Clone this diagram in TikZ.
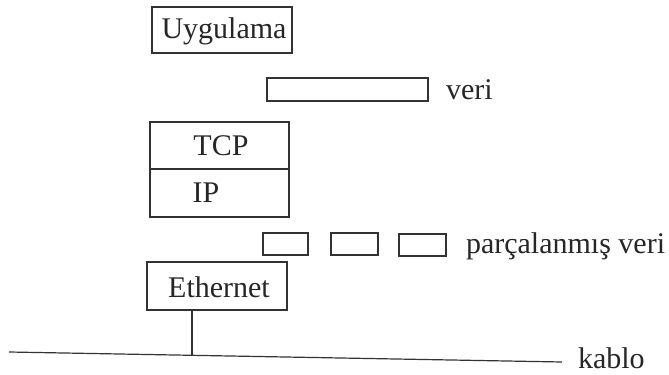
\documentclass[tikz,border=0pt]{standalone}
\usepackage{fontspec}
\setmainfont{Liberation Serif}
\begin{document}
\begin{tikzpicture}[x=0.75pt,y=-0.75pt,
  every node/.style={inner sep=0pt,outer sep=0pt},
  lbl/.style={font=\fontsize{22.5}{25}\selectfont,text=black!85},
  layer/.style={draw=black!80,line width=0.9pt,rectangle,anchor=north west},
  chunk/.style={draw=black!80,line width=0.9pt,rectangle,anchor=north west},
  wire/.style={draw=black!80,line width=0.9pt}]
\useasboundingbox (0,0) rectangle (669,375);

% protocol layers
\node[layer,minimum width=140*0.75pt,minimum height=46*0.75pt] (app) at (152,7) {};
\node[lbl] (apptxt) at (224,31) {Uygulama};

\node[layer,minimum width=139*0.75pt,minimum height=47*0.75pt] (tcp) at (150,122) {};
\node[lbl] (tcptxt) at (221,146) {TCP};
\node[layer,minimum width=139*0.75pt,minimum height=48*0.75pt] (ip) at (150,169) {};
\node[lbl] (iptxt) at (206,193) {IP};

\node[layer,minimum width=140*0.75pt,minimum height=48*0.75pt] (eth) at (147,262) {};
\node[lbl] (ethtxt) at (219,287) {Ethernet};

% data before and after fragmentation
\node[chunk,minimum width=161*0.75pt,minimum height=23*0.75pt] (data) at (267,78) {};
\node[lbl,anchor=west] (datatxt) at (446,90) {veri};

\node[chunk,minimum width=45*0.75pt,minimum height=22*0.75pt] (f1) at (263,233) {};
\node[chunk,minimum width=47*0.75pt,minimum height=22*0.75pt] (f2) at (331,233) {};
\node[chunk,minimum width=47*0.75pt,minimum height=22*0.75pt] (f3) at (399,234) {};
\node[lbl,anchor=west] (fragtxt) at (466,246) {parçalanmış veri};

% cable
\coordinate (cl) at (9,352);
\coordinate (cr) at (562,362);
\coordinate (tap) at (192,355.3);
\draw[wire] (cl) -- (cr);
\draw[wire] (eth.south -| tap) -- (tap);
\node[lbl,anchor=west] (cabletxt) at (578,358) {kablo};
\end{tikzpicture}
\end{document}
